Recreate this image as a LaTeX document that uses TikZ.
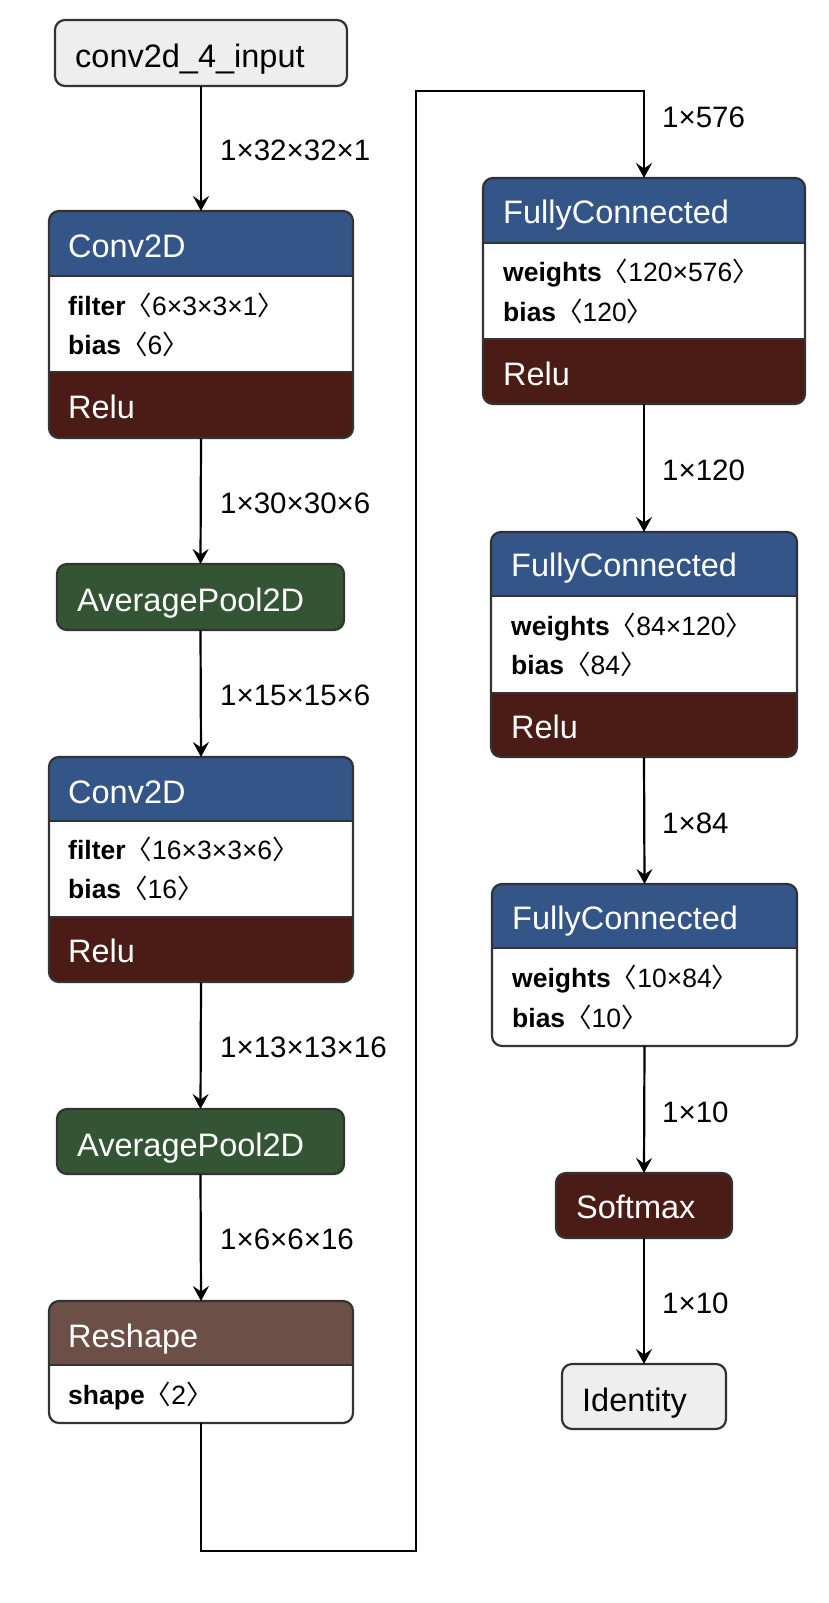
\documentclass[tikz,border=0pt]{standalone}
\usepackage{fontspec}
\setmainfont{Liberation Sans}
\newfontfamily\cjk{Noto Sans CJK SC}
\usetikzlibrary{arrows.meta}
\definecolor{hdrblue}{RGB}{51,85,136}
\definecolor{relured}{RGB}{75,27,22}
\definecolor{poolgreen}{RGB}{51,85,51}
\definecolor{shapebrown}{RGB}{108,79,71}
\definecolor{inputgray}{RGB}{238,238,238}
\definecolor{edgegray}{RGB}{51,51,51}
\newcommand\angl[1]{{\cjk 〈}#1{\cjk 〉}}
\tikzset{
  frame/.style={draw=edgegray, line width=2.2pt, rounded corners=10pt, inner sep=0pt, outer sep=0pt, anchor=north west},
  sepline/.style={draw=edgegray, line width=2.2pt},
  tip/.style={-{Stealth[length=15pt,width=16pt,inset=5.5pt]}},
  conn/.style={line width=2.2pt, tip},
  wire/.style={line width=2.4pt, tip},
  title/.style={anchor=base west, inner sep=0pt, text=white, font=\fontsize{32.5}{38}\selectfont},
  txt/.style={anchor=base west, inner sep=0pt, text=black, font=\fontsize{32.5}{38}\selectfont},
  attr/.style={anchor=base west, inner sep=0pt, text=black, font=\fontsize{26.5}{32}\selectfont},
  lbl/.style={anchor=west, inner sep=0pt, text=black, font=\fontsize{29.5}{34}\selectfont},
}
\begin{document}
\begin{tikzpicture}[x=1pt,y=-1pt]
\useasboundingbox (0,0) rectangle (829,1603);

% ---------- left column ----------
% input
\node[frame, fill=inputgray, minimum width=292pt, minimum height=66pt] (input) at (55,20) {};
\node[txt] (inputT) at (75,67) {conv2d\_4\_input};

% Conv2D 1
\begin{scope}
\clip[rounded corners=10pt] (49,211) rectangle (353,438);
\fill[hdrblue] (49,211) rectangle (353,276);
\fill[white] (49,276) rectangle (353,372);
\fill[relured] (49,372) rectangle (353,438);
\end{scope}
\node[frame, minimum width=304pt, minimum height=227pt] (conv1) at (49,211) {};
\draw[sepline] (49,276) -- (353,276);
\draw[sepline] (49,372) -- (353,372);
\node[title] (conv1T) at (68,257) {Conv2D};
\node[attr] (conv1A) at (68,315) {\textbf{filter}\angl{6×3×3×1}};
\node[attr] (conv1B) at (68,354) {\textbf{bias}\angl{6}};
\node[title] (conv1R) at (68,418) {Relu};

% AveragePool2D 1
\node[frame, fill=poolgreen, minimum width=287pt, minimum height=66pt] (pool1) at (57,564) {};
\node[title] (pool1T) at (77,611) {AveragePool2D};

% Conv2D 2
\begin{scope}
\clip[rounded corners=10pt] (49,757) rectangle (353,982);
\fill[hdrblue] (49,757) rectangle (353,821);
\fill[white] (49,821) rectangle (353,917);
\fill[relured] (49,917) rectangle (353,982);
\end{scope}
\node[frame, minimum width=304pt, minimum height=225pt] (conv2) at (49,757) {};
\draw[sepline] (49,821) -- (353,821);
\draw[sepline] (49,917) -- (353,917);
\node[title] (conv2T) at (68,803) {Conv2D};
\node[attr] (conv2A) at (68,859) {\textbf{filter}\angl{16×3×3×6}};
\node[attr] (conv2B) at (68,898) {\textbf{bias}\angl{16}};
\node[title] (conv2R) at (68,962) {Relu};

% AveragePool2D 2
\node[frame, fill=poolgreen, minimum width=287pt, minimum height=65pt] (pool2) at (57,1109) {};
\node[title] (pool2T) at (77,1156) {AveragePool2D};

% Reshape
\begin{scope}
\clip[rounded corners=10pt] (49,1301) rectangle (353,1423);
\fill[shapebrown] (49,1301) rectangle (353,1365);
\fill[white] (49,1365) rectangle (353,1423);
\end{scope}
\node[frame, minimum width=304pt, minimum height=122pt] (reshape) at (49,1301) {};
\draw[sepline] (49,1365) -- (353,1365);
\node[title] (reshapeT) at (68,1347) {Reshape};
\node[attr] (reshapeA) at (68,1404) {\textbf{shape}\angl{2}};

% ---------- right column ----------
% FC 1
\begin{scope}
\clip[rounded corners=10pt] (483,178) rectangle (805,404);
\fill[hdrblue] (483,178) rectangle (805,243);
\fill[white] (483,243) rectangle (805,339);
\fill[relured] (483,339) rectangle (805,404);
\end{scope}
\node[frame, minimum width=322pt, minimum height=226pt] (fc1) at (483,178) {};
\draw[sepline] (483,243) -- (805,243);
\draw[sepline] (483,339) -- (805,339);
\node[title] (fc1T) at (503,223) {FullyConnected};
\node[attr] (fc1A) at (503,281) {\textbf{weights}\angl{120×576}};
\node[attr] (fc1B) at (503,321) {\textbf{bias}\angl{120}};
\node[title] (fc1R) at (503,385) {Relu};

% FC 2
\begin{scope}
\clip[rounded corners=10pt] (491,532) rectangle (797,757);
\fill[hdrblue] (491,532) rectangle (797,596);
\fill[white] (491,596) rectangle (797,693);
\fill[relured] (491,693) rectangle (797,757);
\end{scope}
\node[frame, minimum width=306pt, minimum height=225pt] (fc2) at (491,532) {};
\draw[sepline] (491,596) -- (797,596);
\draw[sepline] (491,693) -- (797,693);
\node[title] (fc2T) at (511,576) {FullyConnected};
\node[attr] (fc2A) at (511,635) {\textbf{weights}\angl{84×120}};
\node[attr] (fc2B) at (511,674) {\textbf{bias}\angl{84}};
\node[title] (fc2R) at (511,738) {Relu};

% FC 3
\begin{scope}
\clip[rounded corners=10pt] (492,884) rectangle (797,1046);
\fill[hdrblue] (492,884) rectangle (797,948);
\fill[white] (492,948) rectangle (797,1046);
\end{scope}
\node[frame, minimum width=305pt, minimum height=162pt] (fc3) at (492,884) {};
\draw[sepline] (492,948) -- (797,948);
\node[title] (fc3T) at (512,929) {FullyConnected};
\node[attr] (fc3A) at (512,987) {\textbf{weights}\angl{10×84}};
\node[attr] (fc3B) at (512,1027) {\textbf{bias}\angl{10}};

% Softmax
\node[frame, fill=relured, minimum width=176pt, minimum height=65pt] (softmax) at (556,1173) {};
\node[title] (softmaxT) at (576,1218) {Softmax};

% Identity
\node[frame, fill=inputgray, minimum width=164pt, minimum height=65pt] (identity) at (562,1364) {};
\node[txt] (identityT) at (582,1411) {Identity};

% ---------- connectors ----------
\draw[conn] (input.south) -- (conv1.north);
\draw[conn] (conv1.south) -- (pool1.north);
\draw[conn] (pool1.south) -- (conv2.north);
\draw[conn] (conv2.south) -- (pool2.north);
\draw[conn] (pool2.south) -- (reshape.north);
\coordinate (b1) at (416,1551);
\coordinate (b2) at (416,91);
\draw[wire] (reshape.south) |- (b1) -- (b2) -| (fc1.north);
\draw[conn] (fc1.south) -- (fc2.north);
\draw[conn] (fc2.south) -- (fc3.north);
\draw[conn] (fc3.south) -- (softmax.north);
\draw[conn] (softmax.south) -- (identity.north);

% ---------- labels ----------
\node[lbl] (l1) at (220,150) {1×32×32×1};
\node[lbl] (l2) at (220,503) {1×30×30×6};
\node[lbl] (l3) at (220,695) {1×15×15×6};
\node[lbl] (l4) at (220,1047) {1×13×13×16};
\node[lbl] (l5) at (220,1239) {1×6×6×16};
\node[lbl] (r1) at (662,117) {1×576};
\node[lbl] (r2) at (662,470) {1×120};
\node[lbl] (r3) at (662,823) {1×84};
\node[lbl] (r4) at (662,1112) {1×10};
\node[lbl] (r5) at (662,1303) {1×10};
\end{tikzpicture}
\end{document}
